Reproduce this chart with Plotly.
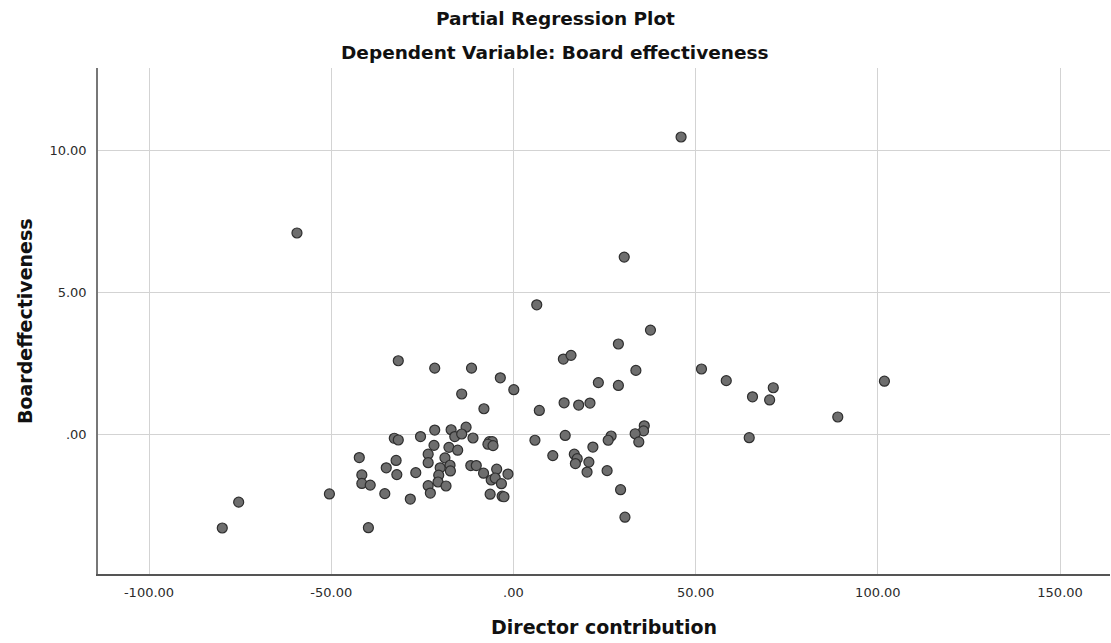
import plotly.graph_objects as go

# Director contribution (x) and Board effectiveness (y)
director_contribution = [
    -79.9, -75.4, -59.4, -50.5, 46.0, 30.4, 6.4,
    -31.6, -21.6, -11.5, -3.6, 0.1, -14.2, -8.1, -13.0, -17.1, -21.6, -16.1, -14.2, -11.1,
    -25.5, -32.7, -31.6, -6.6, -5.8, -7.0, -5.6, -21.8, -17.7, -15.3, -23.4, -42.3, -32.2,
    -23.4, -18.8, -34.9, -20.1, -17.4, -11.7, -10.2, -4.6, -17.3, -20.5, -8.2, -1.5, -32.0,
    -26.8, -41.6, -41.6, -39.3, -6.1, -5.0, -3.3, -20.7, -23.4, -18.5, -35.3, -22.8, -6.4,
    -3.1, -2.6, -28.3, -39.8,
    37.6, 28.8, 13.7, 15.8, 33.6, 23.3, 28.8, 7.1, 13.9, 17.9, 21.0, 35.9, 35.7, 33.4,
    34.4, 26.8, 26.0, 14.2, 5.9, 21.8, 10.8, 16.7, 17.5, 17.0, 20.7, 20.2, 25.7, 29.4, 30.6,
    51.6, 58.4, 65.6, 71.3, 70.3, 89.0, 101.8, 64.7,
]
board_effectiveness = [
    -3.30, -2.39, 7.09, -2.10, 10.47, 6.24, 4.56,
    2.59, 2.33, 2.33, 1.99, 1.57, 1.42, 0.90, 0.25, 0.16, 0.15, -0.08, 0.01, -0.13,
    -0.08, -0.14, -0.20, -0.26, -0.26, -0.35, -0.40, -0.39, -0.46, -0.56, -0.70, -0.82, -0.92,
    -1.00, -0.83, -1.18, -1.18, -1.09, -1.10, -1.10, -1.23, -1.29, -1.44, -1.37, -1.40, -1.42,
    -1.35, -1.43, -1.73, -1.79, -1.61, -1.54, -1.74, -1.68, -1.81, -1.82, -2.09, -2.07, -2.11,
    -2.18, -2.20, -2.28, -3.29,
    3.67, 3.18, 2.65, 2.78, 2.25, 1.82, 1.72, 0.84, 1.11, 1.03, 1.10, 0.30, 0.12, 0.02,
    -0.27, -0.06, -0.21, -0.04, -0.21, -0.45, -0.75, -0.70, -0.86, -1.03, -0.98, -1.33, -1.28, -1.95, -2.92,
    2.30, 1.89, 1.32, 1.64, 1.21, 0.61, 1.87, -0.12,
]

x_tick_vals = [-100, -50, 0, 50, 100, 150]
x_tick_text = ["-100.00", "-50.00", ".00", "50.00", "100.00", "150.00"]
y_tick_vals = [0, 5, 10]
y_tick_text = [".00", "5.00", "10.00"]

title_text = "Partial Regression Plot"
subtitle_text = "Dependent Variable: Board effectiveness"
x_title = "Director contribution"
y_title = "Boardeffectiveness"

fig = go.Figure()
fig.add_trace(go.Scatter(
    x=director_contribution, y=board_effectiveness, mode="markers",
    marker=dict(size=10, color="#6e6e6e", line=dict(width=1.2, color="#2e2e2e")),
    hoverinfo="x+y", showlegend=False,
))

tick_font = dict(family="DejaVu Sans", size=13, color="#2b2b2b")
title_font = dict(family="DejaVu Sans", size=18.5, color="#111111")
axis_title_font = dict(family="DejaVu Sans", size=19, color="#111111")
fig.update_layout(
    width=1111, height=643,
    margin=dict(l=98, r=1, t=68, b=69),
    paper_bgcolor="white", plot_bgcolor="white",
    xaxis=dict(range=[-114, 163.7], tickvals=x_tick_vals, ticktext=x_tick_text,
               showgrid=True, gridcolor="#d3d3d3", gridwidth=1.2, zeroline=False,
               showline=True, linecolor="#555555", linewidth=1.5, ticks="",
               tickfont=tick_font, ticklabelstandoff=6),
    yaxis=dict(range=[-4.92, 12.9], tickvals=y_tick_vals, ticktext=y_tick_text,
               showgrid=True, gridcolor="#d3d3d3", gridwidth=1.2, zeroline=False,
               showline=True, linecolor="#777777", linewidth=1.5, ticks="",
               tickfont=tick_font, ticklabelstandoff=7),
    annotations=[
        dict(text="<b>" + title_text + "</b>", xref="paper", yref="paper",
             x=0.452, y=1.0988, xanchor="center", yanchor="middle", showarrow=False,
             font=title_font),
        dict(text="<b>" + subtitle_text + "</b>", xref="paper", yref="paper",
             x=0.452, y=1.0316, xanchor="center", yanchor="middle", showarrow=False,
             font=title_font),
        dict(text="<b>" + x_title + "</b>", xref="paper", yref="paper",
             x=0.5, y=-0.1047, xanchor="center", yanchor="middle", showarrow=False,
             font=axis_title_font),
        dict(text="<b>" + y_title + "</b>", xref="paper", yref="paper",
             x=-0.0721, y=0.5, xanchor="center", yanchor="middle", showarrow=False,
             textangle=-90, font=axis_title_font),
    ],
)

fig.write_html("out.html")
